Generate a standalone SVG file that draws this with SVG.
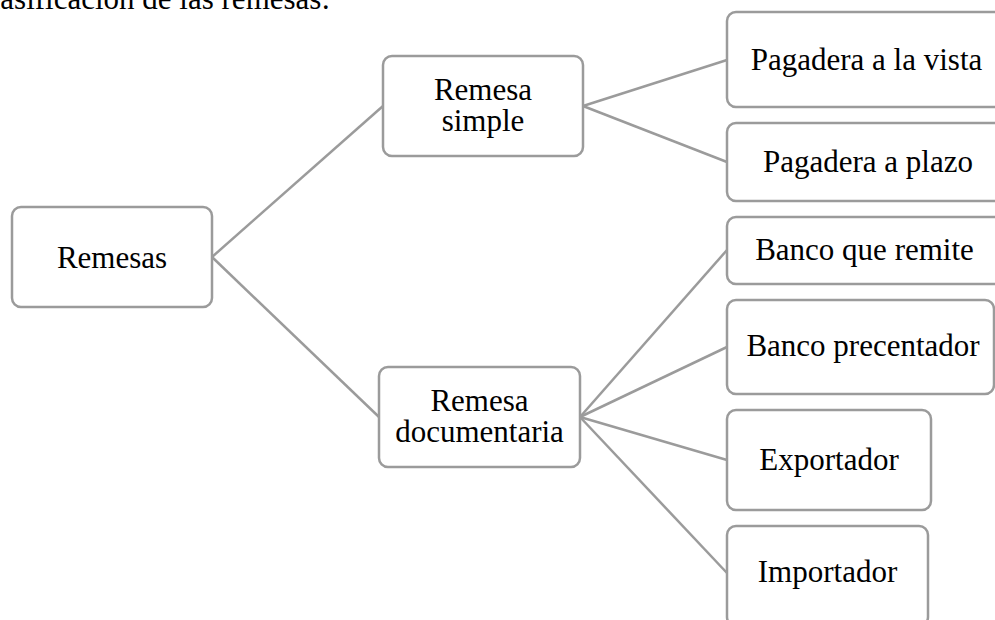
<svg xmlns="http://www.w3.org/2000/svg" width="995" height="620" viewBox="0 0 995 620">
<style>
.box{fill:#ffffff;stroke:#9b9b9b;stroke-width:2.5}
.lbl{font-size:31px;fill:#000000;text-anchor:middle}
.title{font-size:31px;fill:#000000}
.conn{stroke:#9b9b9b;stroke-width:2.5;fill:none}
</style>
<rect width="995" height="620" fill="#ffffff"/>
<g font-family="'Liberation Serif', Tinos, 'Times New Roman', 'DejaVu Serif', serif">
<text class="title" x="330" y="9" text-anchor="end">Clasificación de las remesas:</text>
<g id="connectors">
<line class="conn" x1="212" y1="257" x2="383" y2="106"/>
<line class="conn" x1="212" y1="257" x2="379" y2="417"/>
<line class="conn" x1="583" y1="106" x2="727" y2="60"/>
<line class="conn" x1="583" y1="106" x2="727" y2="162"/>
<line class="conn" x1="580" y1="417" x2="727" y2="250"/>
<line class="conn" x1="580" y1="417" x2="727" y2="347"/>
<line class="conn" x1="580" y1="417" x2="727" y2="460"/>
<line class="conn" x1="580" y1="417" x2="727" y2="573"/>
</g>
<g id="remesas">
<rect class="box" x="12" y="207" width="200" height="100" rx="9"/>
<text class="lbl" x="112" y="268">Remesas</text>
</g>
<g id="remesa-simple">
<rect class="box" x="383" y="56" width="200" height="100" rx="9"/>
<text class="lbl" x="483" y="100">Remesa</text>
<text class="lbl" x="483" y="131">simple</text>
</g>
<g id="remesa-documentaria">
<rect class="box" x="379" y="367" width="201" height="100" rx="9"/>
<text class="lbl" x="479.5" y="411">Remesa</text>
<text class="lbl" x="479.5" y="442">documentaria</text>
</g>
<g id="pagadera-vista">
<rect class="box" x="727" y="12" width="280" height="95" rx="9"/>
<text class="lbl" x="866.5" y="70">Pagadera a la vista</text>
</g>
<g id="pagadera-plazo">
<rect class="box" x="727" y="123" width="280" height="78" rx="9"/>
<text class="lbl" x="868" y="172">Pagadera a plazo</text>
</g>
<g id="banco-remite">
<rect class="box" x="727" y="217" width="280" height="67" rx="9"/>
<text class="lbl" x="864.5" y="260">Banco que remite</text>
</g>
<g id="banco-precentador">
<rect class="box" x="727" y="300" width="267" height="94" rx="9"/>
<text class="lbl" x="863" y="356">Banco precentador</text>
</g>
<g id="exportador">
<rect class="box" x="727" y="410" width="204" height="100" rx="9"/>
<text class="lbl" x="829" y="470">Exportador</text>
</g>
<g id="importador">
<rect class="box" x="727" y="526" width="201" height="100" rx="9"/>
<text class="lbl" x="827.5" y="582">Importador</text>
</g>
</g>
</svg>
